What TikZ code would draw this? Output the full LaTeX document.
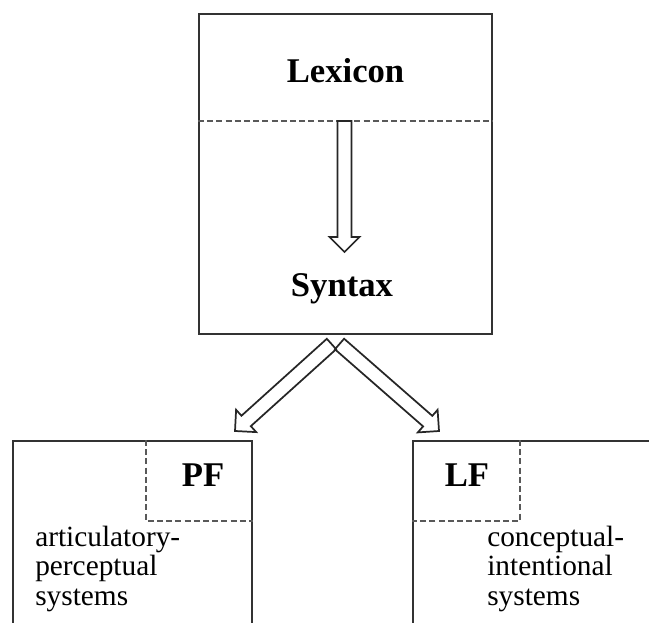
\documentclass[tikz,border=0pt]{standalone}
\usepackage{fontspec}
\setmainfont{Liberation Serif}
\usetikzlibrary{calc}

% block arrow: #1 name prefix, #2 tail coordinate, #3 tip coordinate
\newcommand\arrowsw{5.25pt}  % half shaft width
\newcommand\arrowhw{11.25pt} % half head width
\newcommand\arrowhl{11.25pt} % head length
\newcommand\blockarrow[3]{%
  \coordinate (#1-h) at ($(#3)!\arrowhl!(#2)$);
  \draw[blockarr]
    ($(#2)!\arrowsw!90:(#3)$) -- ($(#1-h)!\arrowsw!-90:(#2)$)
    -- ($(#1-h)!\arrowhw!-90:(#2)$) -- (#3)
    -- ($(#1-h)!\arrowhw!90:(#2)$) -- ($(#1-h)!\arrowsw!90:(#2)$)
    -- ($(#2)!\arrowsw!-90:(#3)$) -- cycle;
}

\tikzset{
  module/.style={draw=black!80, line width=1.4pt, inner sep=0pt},
  dashline/.style={draw=black!65, line width=1.3pt, dash pattern=on 4.5pt off 2.4pt},
  blockarr/.style={draw=black!85, line width=1.3pt, line join=miter},
  title/.style={font=\fontsize{26}{28}\selectfont\bfseries, inner sep=0pt, anchor=base},
  body/.style={font=\fontsize{22}{21.8}\selectfont, inner sep=0pt, align=left, anchor=base west},
}

\begin{document}
\begin{tikzpicture}[x=0.75pt, y=-0.75pt]
  \useasboundingbox (0,0) rectangle (649,623);
  \clip (0,0) rectangle (649,623);

  % the three modules
  \node[module, minimum width=219.75pt, minimum height=240pt] (core) at (345.5,174) {};
  \node[module, minimum width=179.25pt, minimum height=194.25pt] (pfbox) at (132.5,570.5) {};
  \node[module, minimum width=230.25pt, minimum height=194.25pt] (lfbox) at (566.5,570.5) {};

  % lexicon / syntax split
  \coordinate (split) at (345.5,121);
  \draw[dashline] (core.west |- split) -- (core.east |- split);

  % interface corners
  \coordinate (pfcorner) at (146,521);
  \coordinate (lfcorner) at (520,521);
  \draw[dashline] (pfcorner |- pfbox.north) -- (pfcorner) -- (pfcorner -| pfbox.east);
  \draw[dashline] (lfcorner |- lfbox.north) -- (lfcorner) -- (lfcorner -| lfbox.west);

  % labels
  \node[title] (lexicon) at (345.5,83) {Lexicon};
  \node[title] (syntax) at (342,297) {Syntax};
  \node[title] (pf) at (203,486) {PF};
  \node[title] (lf) at (467,486) {LF};
  % base anchor of a multi-line node sits on its last line
  \node[body] (artic) at (35,605) {articulatory-\\perceptual\\systems};
  \node[body] (concept) at (487,605) {conceptual-\\intentional\\systems};

  % derivation arrows
  \coordinate (va) at (344.5,121);
  \coordinate (vb) at (344.5,252);
  \coordinate (la) at (331.5,344);
  \coordinate (lb) at (235,431);
  \coordinate (ra) at (339.5,344);
  \coordinate (rb) at (439,431);
  \blockarrow{down}{va}{vb}
  \blockarrow{topf}{la}{lb}
  \blockarrow{tolf}{ra}{rb}
\end{tikzpicture}
\end{document}
